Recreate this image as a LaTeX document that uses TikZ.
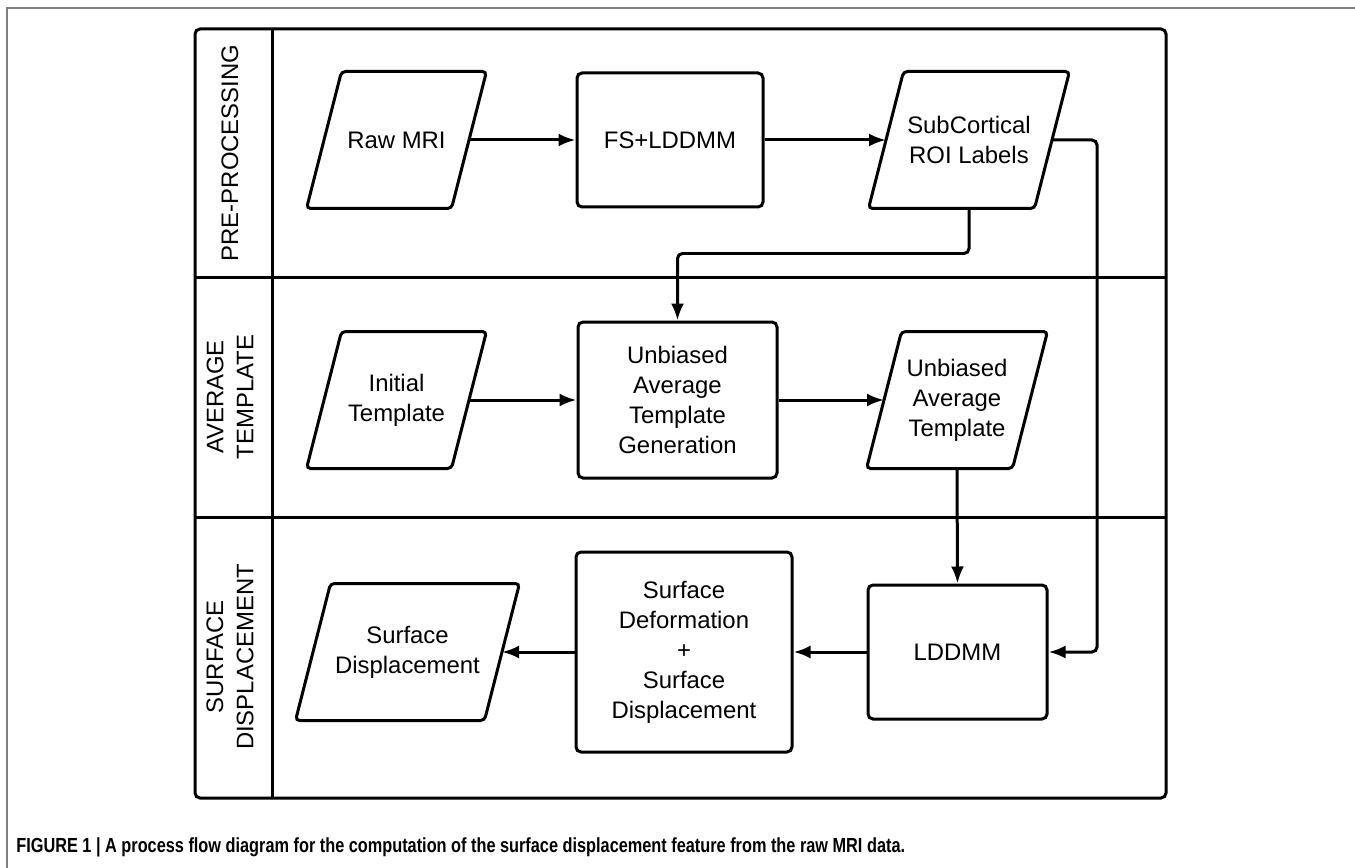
\documentclass[tikz,border=0pt]{standalone}
\usepackage{fontspec}
\setmainfont{Liberation Sans}
\newfontfamily\capfont[FakeStretch=0.8]{Liberation Sans}
\usetikzlibrary{arrows.meta}
\newdimen\px \px=0.02cm

\begin{document}
\begin{tikzpicture}[x=0.02cm,y=-0.02cm,>={Latex[length=0.34cm,width=0.26cm]},line width=0.06cm,
  every node/.style={font=\fontsize{13.6}{17.1}\selectfont},
  proc/.style={draw,rounded corners=0.1cm,minimum height=134\px,align=center,inner sep=0pt},
  data/.style={minimum height=134\px,align=center,inner sep=0pt,
    append after command={\pgfextra{\draw[rounded corners=0.08cm]
      ([xshift=-17.5\px]\tikzlastnode.south west) -- ([xshift=17.5\px]\tikzlastnode.north west) --
      ([xshift=17.5\px]\tikzlastnode.north east) -- ([xshift=-17.5\px]\tikzlastnode.south east) -- cycle;}}},
  lane/.style={rotate=90,align=center}]
\useasboundingbox (0,0) rectangle (1355,868);
\draw[gray,line width=0.03cm] (7,868) -- (7,8) -- (1355,8);

% swimlanes
\draw[rounded corners=0.1cm] (195,29) rectangle (1166,798);
\draw (272,29) -- (272,798);
\draw (195,277) -- (1166,277);
\draw (195,517) -- (1166,517);
\node[lane] (pre) at (230,153) {PRE-PROCESSING};
\node[lane] (tmpl) at (230,397) {AVERAGE\\TEMPLATE};
\node[lane] (surf) at (230,657) {SURFACE\\DISPLACEMENT};

% steps
\node[data,minimum width=142\px] (raw) at (396.5,140) {Raw MRI};
\node[proc,minimum width=186\px] (fs) at (670,140) {FS+LDDMM};
\node[data,minimum width=163\px] (roi) at (969,140) {SubCortical\\ROI Labels};
\node[data,minimum width=142\px] (init) at (396.5,400) {Initial\\Template};
\node[proc,minimum width=199\px,minimum height=156\px] (gen) at (677.5,400) {Unbiased\\Average\\Template\\Generation};
\node[data,minimum width=143\px] (avg) at (957,400) {Unbiased\\Average\\Template};
\node[proc,minimum width=179\px] (lddmm) at (957.5,652) {LDDMM};
\node[proc,minimum width=216\px,minimum height=200\px] (deform) at (684,652) {Surface\\Deformation\\+\\Surface\\Displacement};
\node[data,minimum width=186\px] (disp) at (407.5,652) {Surface\\Displacement};
\coordinate (rgt) at (1097,0);

% arrows
\draw[->] (raw.east) -- (fs.west);
\draw[->] (fs.east) -- (roi.west);
\draw[->,rounded corners=0.1cm] (roi.east) -- (roi.east -| rgt) -- (lddmm.east -| rgt) -- (lddmm.east);
\draw[->,rounded corners=0.1cm] (roi.south) -- ++(0,45) -| (gen.north);
\draw[->] (init.east) -- (gen.west);
\draw[->] (gen.east) -- (avg.west);
\draw[->] (avg.south) -- (lddmm.north);
\draw[->] (lddmm.west) -- (deform.east);
\draw[->] (deform.west) -- (disp.east);

\node[anchor=west,font=\capfont\bfseries\fontsize{11.6}{13}\selectfont] (cap) at (9,847)
  {FIGURE 1 | A process flow diagram for the computation of the surface displacement feature from the raw MRI data.};
\end{tikzpicture}
\end{document}
